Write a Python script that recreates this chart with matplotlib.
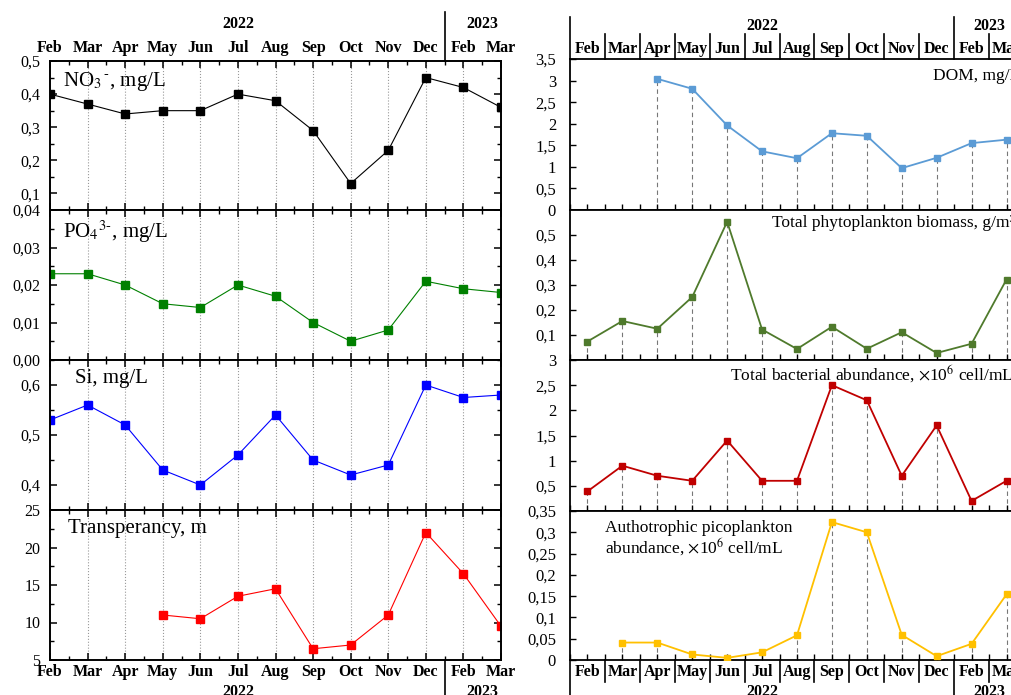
import numpy as np
import matplotlib
matplotlib.use("Agg")
import matplotlib.pyplot as plt
from matplotlib.transforms import blended_transform_factory
from matplotlib.ticker import FuncFormatter, MultipleLocator, FixedLocator

plt.rcParams["font.family"] = ["Liberation Serif", "DejaVu Serif"]
plt.rcParams["mathtext.fontset"] = "stix"

MONTHS = ["Feb", "Mar", "Apr", "May", "Jun", "Jul", "Aug", "Sep", "Oct",
          "Nov", "Dec", "Feb", "Mar"]
YEARS = ["2022", "2023"]
nan = np.nan

# left column: hydrochemistry
no3 = [0.40, 0.37, 0.34, 0.35, 0.35, 0.40, 0.38, 0.29, 0.13, 0.23, 0.45, 0.42, 0.36]
po4 = [0.023, 0.023, 0.020, 0.015, 0.014, 0.020, 0.017, 0.010, 0.005, 0.008,
       0.021, 0.019, 0.018]
si = [0.53, 0.56, 0.52, 0.43, 0.40, 0.46, 0.54, 0.45, 0.42, 0.44, 0.60, 0.575, 0.58]
transp = [nan, nan, nan, 11.0, 10.5, 13.5, 14.5, 6.5, 7.0, 11.0, 22.0, 16.5, 9.5]

# right column: biology
dom = [nan, nan, 3.04, 2.81, 1.96, 1.36, 1.20, 1.78, 1.72, 0.97, 1.21, 1.55, 1.63]
phyto = [0.074, 0.156, 0.125, 0.252, 0.553, 0.122, 0.044, 0.133, 0.045, 0.111,
         0.028, 0.065, 0.322]
bact = [0.39, 0.90, 0.70, 0.60, 1.40, 0.60, 0.60, 2.50, 2.20, 0.70, 1.70, 0.20, 0.60]
pico = [nan, 0.041, 0.041, 0.013, 0.005, 0.018, 0.058, 0.324, 0.300, 0.059,
        0.009, 0.038, 0.154]

W, H = 1011, 695
fig = plt.figure(figsize=(W / 100, H / 100), dpi=100)


def px_axes(x0, x1, y0, y1):
    return fig.add_axes([x0 / W, 1 - y1 / H, (x1 - x0) / W, (y1 - y0) / H])


def comma(fmt):
    return FuncFormatter(lambda v, p: (fmt % v).replace(".", ","))


x = np.arange(len(MONTHS))

# ---------------- left column ----------------
left_rows = [(61, 210), (210, 360), (360, 510), (510, 660)]
left_specs = [
    (no3, "black", (0.05, 0.5), 0.1, 0.05, "%g",
     r"NO$_3$$^{\,\text{-}}$, mg/L", 63),
    (po4, "#008000", (0.0, 0.04), 0.01, 0.005, "%.2f",
     r"PO$_4$$^{\text{3-}}$, mg/L", 63),
    (si, "#0000ff", (0.35, 0.65), 0.1, 0.05, "%g", "Si, mg/L", 75),
    (transp, "#ff0000", (5, 25), 5, 2.5, "%g", "Transperancy, m", 68),
]
left_axes = []
for (y0, y1), (vals, col, ylim, maj, mnr, fmt, label, lx) in zip(left_rows, left_specs):
    ax = px_axes(50, 501, y0, y1)
    for m in range(1, len(MONTHS) - 1):
        ax.axvline(m, color="#999999", ls=":", lw=0.8, zorder=0)
    ax.plot(x, vals, "-", color=col, lw=0.8, marker="s", ms=6.2,
            markerfacecolor=col, markeredgecolor=col)
    ax.set_xlim(0, len(MONTHS) - 1)
    ax.set_ylim(*ylim)
    ax.xaxis.set_major_locator(MultipleLocator(1))
    ax.xaxis.set_minor_locator(MultipleLocator(0.5))
    ax.yaxis.set_major_locator(MultipleLocator(maj))
    ax.yaxis.set_minor_locator(MultipleLocator(mnr))
    ax.yaxis.set_major_formatter(comma(fmt))
    ax.tick_params(which="both", direction="in", top=True, right=True,
                   labelbottom=False, labelsize=11.5, pad=7)
    ax.tick_params(which="major", length=5, width=1.1)
    ax.tick_params(which="minor", length=3, width=1.0)
    for s in ax.spines.values():
        s.set_linewidth(1.4)
    ax.text((lx - 50) / 451, 0.94, label, transform=ax.transAxes,
            ha="left", va="top", fontsize=15)
    left_axes.append(ax)

# month / year headers on the left column
top, bot = left_axes[0], left_axes[-1]
tt = blended_transform_factory(top.transData, top.transAxes)
tb = blended_transform_factory(bot.transData, bot.transAxes)
for i, m in enumerate(MONTHS):
    top.text(i, 1.087, m, transform=tt, ha="center", va="center",
             fontsize=11.5, fontweight="bold")
    bot.text(i, -0.08, m, transform=tb, ha="center", va="center",
             fontsize=11.5, fontweight="bold")
for t, (ya, yb) in [(tt, (1.0, 1.33)), (tb, (0.0, -0.27))]:
    top.plot([10.5, 10.5], [ya, yb], color="black", lw=1.2, transform=t,
             clip_on=False)
top.text(5, 1.247, YEARS[0], transform=tt, ha="center", va="center",
         fontsize=11.5, fontweight="bold")
top.text(11.5, 1.247, YEARS[1], transform=tt, ha="center", va="center",
         fontsize=11.5, fontweight="bold")
bot.text(5, -0.213, YEARS[0], transform=tb, ha="center", va="center",
         fontsize=11.5, fontweight="bold")
bot.text(11.5, -0.213, YEARS[1], transform=tb, ha="center", va="center",
         fontsize=11.5, fontweight="bold")

# ---------------- right column ----------------
right_rows = [(59, 210), (210, 360), (360, 511), (511, 660)]
bw = 34.92
rx0, rx1 = 570, 570 + 13 * bw
right_specs = [
    (dom, "#5b9bd5", 3.5, [0, 0.5, 1, 1.5, 2, 2.5, 3, 3.5],
     "DOM, mg/L", 933, 0.94),
    (phyto, "#4f7a2c", 0.6, [0.1, 0.2, 0.3, 0.4, 0.5],
     "Total phytoplankton biomass, g/m\u00b3", 772, 0.965),
    (bact, "#c00000", 3.0, [0.5, 1, 1.5, 2, 2.5, 3],
     r"Total bacterial abundance, $\times$10$^{6}$ cell/mL", 730, 0.975),
    (pico, "#ffc000", 0.35, [0, 0.05, 0.1, 0.15, 0.2, 0.25, 0.3, 0.35],
     "Authotrophic picoplankton\n" + r"abundance, $\times$10$^{6}$ cell/mL", 605, 0.94),
]
right_axes = []
for (y0, y1), (vals, col, ytop, ticks, label, lx, ly) in zip(right_rows, right_specs):
    ax = px_axes(rx0, rx1, y0, y1)
    v = np.array(vals, float)
    ok = ~np.isnan(v)
    ax.vlines(x[ok], 0, v[ok], colors="#777777", linestyles=(0, (4, 3)), lw=0.8,
              zorder=1)
    ax.plot(x, v, "-", color=col, lw=1.3, marker="s", ms=5,
            markerfacecolor=col, markeredgecolor=col, zorder=3)
    ax.set_xlim(-0.5, len(MONTHS) - 0.5)
    ax.set_ylim(0, ytop)
    ax.xaxis.set_major_locator(MultipleLocator(1, offset=0.5))
    ax.xaxis.set_minor_locator(MultipleLocator(1))
    ax.yaxis.set_major_locator(FixedLocator(ticks))
    ax.yaxis.set_major_formatter(comma("%g"))
    ax.tick_params(which="both", direction="in", length=4, width=1.0,
                   labelbottom=False, labelsize=12, pad=10)
    for s in ax.spines.values():
        s.set_linewidth(1.3)
    ax.text((lx - rx0) / (rx1 - rx0), ly, label, transform=ax.transAxes,
            ha="left", va="top", fontsize=12.5, linespacing=1.05)
    right_axes.append(ax)

rt, rb = right_axes[0], right_axes[-1]
tt = blended_transform_factory(rt.transData, rt.transAxes)
tb = blended_transform_factory(rb.transData, rb.transAxes)
for i, m in enumerate(MONTHS):
    rt.text(i, 1.066, m, transform=tt, ha="center", va="center",
            fontsize=11.5, fontweight="bold")
    rb.text(i, -0.08, m, transform=tb, ha="center", va="center",
            fontsize=11.5, fontweight="bold")
for k in range(len(MONTHS)):
    b = k - 0.5
    tall = k in (0, 11)
    rt.plot([b, b], [1.0, 1.278 if tall else 1.166], color="black", lw=1.2,
            transform=tt, clip_on=False)
    rb.plot([b, b], [0.0, -0.27 if tall else -0.148], color="black", lw=1.2,
            transform=tb, clip_on=False)
rt.text(5, 1.219, YEARS[0], transform=tt, ha="center", va="center",
        fontsize=11.5, fontweight="bold")
rt.text(11.5, 1.219, YEARS[1], transform=tt, ha="center", va="center",
        fontsize=11.5, fontweight="bold")
rb.text(5, -0.215, YEARS[0], transform=tb, ha="center", va="center",
        fontsize=11.5, fontweight="bold")
rb.text(11.5, -0.215, YEARS[1], transform=tb, ha="center", va="center",
        fontsize=11.5, fontweight="bold")

fig.savefig("out.png", dpi=100)
